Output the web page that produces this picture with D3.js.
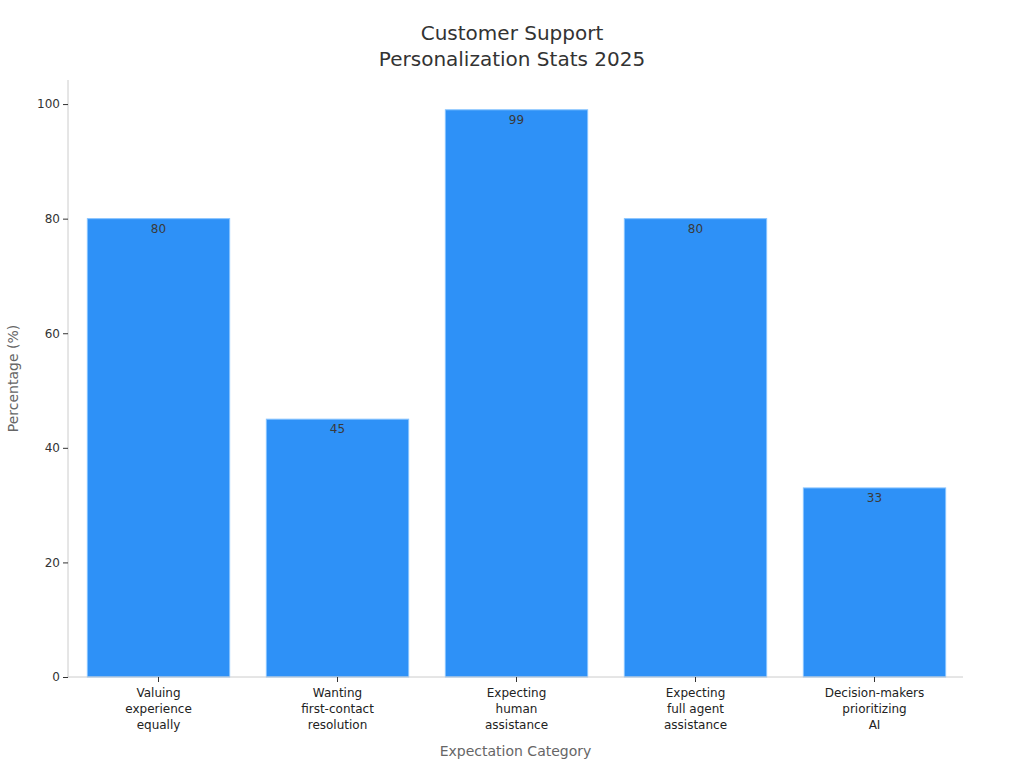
<!DOCTYPE html>
<html><head><meta charset="utf-8">
<script src="https://cdn.jsdelivr.net/npm/d3@7"></script>
<style>body{margin:0;background:#fff;font-family:"DejaVu Sans",sans-serif;}</style>
</head><body><svg id="c" width="1024" height="768"></svg>
<script>
const categories = [["Valuing","experience","equally"],["Wanting","first-contact","resolution"],["Expecting","human","assistance"],["Expecting","full agent","assistance"],["Decision-makers","prioritizing","AI"]];
const values = [80, 45, 99, 80, 33];
const yTicks = [0, 20, 40, 60, 80, 100];
const titleLines = ["Customer Support", "Personalization Stats 2025"];

const svg = d3.select("#c");
const m = {l:68, r:963, t:80, b:677};
const x = d3.scaleBand().domain(categories.map((d,i)=>i)).range([m.l+1, m.r+1]).paddingInner(0.205).paddingOuter(0.1025);
const y = d3.scaleLinear().domain([0, 104.2]).range([m.b, m.t]);

svg.selectAll("text.title").data(titleLines).join("text")
  .attr("x", 512).attr("y", (d,i)=>40 + i*26).attr("text-anchor","middle")
  .attr("font-size", 20).attr("fill","#333").text(d=>d);

svg.selectAll("rect.bar").data(values).join("rect")
  .attr("x",(d,i)=>x(i)).attr("width",x.bandwidth())
  .attr("y",d=>y(d)).attr("height",d=>y(0)-y(d))
  .attr("fill","#2e91f7").attr("stroke","#86c3ff").attr("stroke-width",1);

svg.selectAll("text.val").data(values).join("text")
  .attr("x",(d,i)=>x(i)+x.bandwidth()/2).attr("y",d=>y(d)+14)
  .attr("text-anchor","middle").attr("font-size",12).attr("fill","#3a3a3a").text(d=>d);

const ya = svg.append("g").attr("transform",`translate(${m.l},0)`)
  .call(d3.axisLeft(y).tickValues(yTicks).tickSize(5).tickPadding(3));
ya.select(".domain").attr("stroke","#ccc").attr("d",`M0,${m.t}V${m.b}`);
ya.selectAll(".tick line").attr("stroke","#333");
ya.selectAll(".tick text").attr("font-size",12).attr("fill","#333").attr("font-family","DejaVu Sans");

const xa = svg.append("g").attr("transform",`translate(0,${m.b})`)
  .call(d3.axisBottom(x).tickSize(5).tickFormat(""));
xa.select(".domain").attr("stroke","#ccc").attr("d",`M${m.l},0H${m.r}`);
xa.selectAll(".tick line").attr("stroke","#333");
xa.selectAll(".tick").each(function(d){
  const t = d3.select(this).append("text").attr("fill","#222").attr("font-size",12)
    .attr("text-anchor","middle").attr("font-family","DejaVu Sans");
  categories[d].forEach((s,j)=>t.append("tspan").attr("x",0).attr("y",20+j*16).text(s));
});

svg.append("text").attr("x",(m.l+m.r)/2).attr("y",756).attr("text-anchor","middle")
  .attr("font-size",14).attr("fill","#666").text("Expectation Category");
svg.append("text").attr("transform",`translate(18,${(m.t+m.b)/2}) rotate(-90)`).attr("text-anchor","middle")
  .attr("font-size",14).attr("fill","#666").text("Percentage (%)");
</script></body></html>
